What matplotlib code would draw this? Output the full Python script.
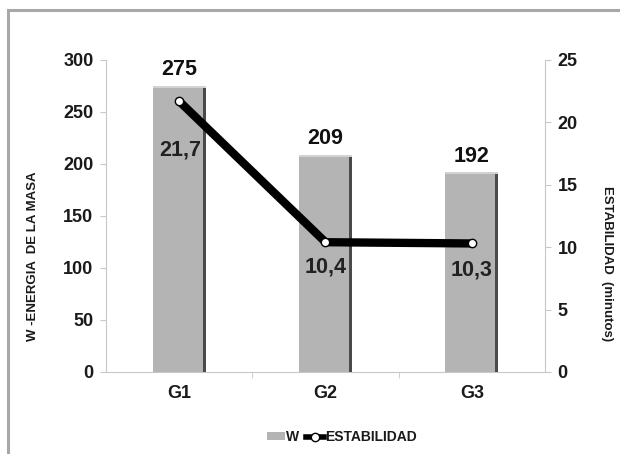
import matplotlib
matplotlib.use("Agg")
import matplotlib.pyplot as plt
from matplotlib.patches import Rectangle
from matplotlib.lines import Line2D
import numpy as np

plt.rcParams['font.family'] = ['Liberation Sans', 'DejaVu Sans']

groups = ["G1", "G2", "G3"]
energia_w = [275, 209, 192]
estabilidad = [21.7, 10.4, 10.3]
estabilidad_txt = ["21,7", "10,4", "10,3"]

left_ticks = [0, 50, 100, 150, 200, 250, 300]
right_ticks = [0, 5, 10, 15, 20, 25]

# label offsets (points) for the line values
line_label_offsets = [(1, -35), (0, -18), (0, -19)]

fig = plt.figure(figsize=(6.2, 4.54), dpi=100)
fig.patches.append(Rectangle((8 / 620, -0.1), 1.2, 1 - 10 / 454 + 0.1,
                             transform=fig.transFigure, fill=False,
                             edgecolor="#a8a8a8", linewidth=2.2, zorder=0))

ax = fig.add_axes([106 / 620, 1 - 372 / 454, (545 - 106) / 620, (372 - 60) / 454])
ax2 = ax.twinx()

x = np.arange(len(groups))
bw = 0.36
edge_w = 0.02
bar_color = "#b4b4b4"
ax.bar(x, energia_w, width=bw, color=bar_color, edgecolor="none", zorder=2)
# shaded right edge and light top edge of each bar
ax.bar(x + bw / 2 - edge_w / 2, energia_w, width=edge_w, color="#4a4a4a",
       edgecolor="none", zorder=3)
ax.bar(x, [2.0] * len(x), bottom=np.array(energia_w) - 2.0, width=bw,
       color="#d2d2d2", edgecolor="none", zorder=3)

for xi, v in zip(x, energia_w):
    ax.annotate(str(v), (xi, v), xytext=(0, 4), textcoords="offset points",
                ha="center", va="bottom", fontsize=15.5, fontweight="bold",
                color="#111111")

ax.set_xlim(-0.5, 2.5)
ax.set_ylim(0, 300)
ax.set_yticks(left_ticks)
ax.set_xticks(x)
ax.set_xticklabels(groups)
ax.set_xticks([0.5, 1.5], minor=True)
ax.tick_params(axis="x", which="major", length=0, pad=9, labelsize=13)
ax.tick_params(axis="x", which="minor", length=4, color="#c8c8c8", direction="out")
ax.tick_params(axis="y", length=4, color="#c8c8c8", labelsize=13, pad=5)
for lab in ax.get_xticklabels() + ax.get_yticklabels():
    lab.set_fontweight("bold")
    lab.set_color("#1a1a1a")

ax2.plot(x, estabilidad, color="black", linewidth=6, solid_capstyle="butt",
         marker="o", markersize=6, markerfacecolor="white",
         markeredgecolor="black", markeredgewidth=1.0, zorder=5)
for xi, v, t, off in zip(x, estabilidad, estabilidad_txt, line_label_offsets):
    ax2.annotate(t, (xi, v), xytext=off, textcoords="offset points",
                 ha="center", va="center", fontsize=15.5, fontweight="bold",
                 color="#222222")
ax2.set_ylim(0, 25)
ax2.set_yticks(right_ticks)
ax2.tick_params(axis="y", length=4, color="#c8c8c8", labelsize=13, pad=5)
for lab in ax2.get_yticklabels():
    lab.set_fontweight("bold")
    lab.set_color("#1a1a1a")

for a in (ax, ax2):
    a.spines["top"].set_visible(False)
    a.spines["left"].set_color("#c8c8c8")
    a.spines["right"].set_color("#c8c8c8")
    a.spines["bottom"].set_color("#c8c8c8")
ax.spines["right"].set_visible(False)
ax2.spines["left"].set_visible(False)
ax2.spines["bottom"].set_visible(False)
ax.set_zorder(1)
ax2.set_zorder(2)
ax.patch.set_visible(False)

fig.text(33 / 620, 1 - 256 / 454, "W -ENERGIA  DE LA MASA", rotation=90,
         ha="center", va="center", fontsize=9.5, fontweight="bold", color="#1a1a1a")
fig.text(607 / 620, 1 - 264 / 454, "ESTABILIDAD  (minutos)", rotation=270,
         ha="center", va="center", fontsize=9.5, fontweight="bold", color="#1a1a1a")

handles = [Rectangle((0, 0), 1, 1, facecolor=bar_color, edgecolor="none"),
           Line2D([], [], color="black", linewidth=4, marker="o", markersize=6,
                  markerfacecolor="white", markeredgecolor="black")]
leg = fig.legend(handles, ["W", "ESTABILIDAD"], loc="center",
                 bbox_to_anchor=(342 / 620, 1 - 437 / 454), ncol=2, frameon=False,
                 handlelength=1.3, handleheight=0.5, handletextpad=0.1,
                 columnspacing=0.5, prop={"weight": "bold", "size": 10})
for t in leg.get_texts():
    t.set_color("#1a1a1a")

fig.savefig("out.png", dpi=100, facecolor="white")
